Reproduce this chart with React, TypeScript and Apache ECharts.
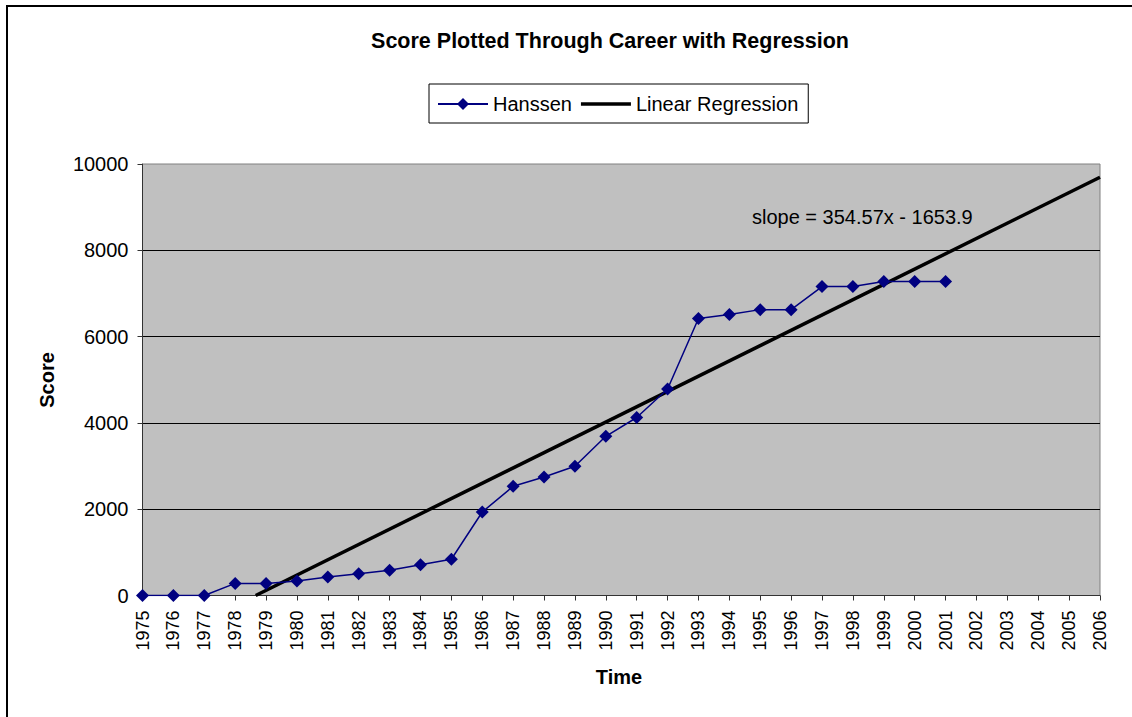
import { useEffect, useRef } from "react";
import * as echarts from "echarts";

// ---- Data ----
const years = [
  1975, 1976, 1977, 1978, 1979, 1980, 1981, 1982, 1983, 1984, 1985, 1986, 1987, 1988,
  1989, 1990, 1991, 1992, 1993, 1994, 1995, 1996, 1997, 1998, 1999, 2000, 2001,
];
const hanssenScores = [
  0, 0, 0, 280, 280, 335, 430, 505, 585, 715, 840, 1935, 2530, 2745, 2995, 3690, 4125,
  4785, 6420, 6510, 6625, 6625, 7160, 7160, 7275, 7275, 7275,
];
const axisYearMin = 1975;
const axisYearMax = 2006;
const scoreMax = 10000;
const scoreStep = 2000;
// regression from the annotation: y = 354.57x - 1653.9, x = 1 at 1975
const regressionSlope = 354.57;
const regressionIntercept = -1653.9;
const regressionLabel = "slope = 354.57x - 1653.9";
const seriesNames = ["Hanssen", "Linear Regression"];
const titleText = "Score Plotted Through Career with Regression";
const yAxisTitle = "Score";
const xAxisTitle = "Time";

const FONT = "'Liberation Sans', Arial, sans-serif";

export default function App() {
  const ref = useRef<HTMLDivElement>(null);

  useEffect(() => {
    if (!ref.current) return;
    const chart = echarts.init(ref.current, undefined, { renderer: "svg" });

    const hanssenData = years.map((y, i) => [y, hanssenScores[i]]);
    const toIndex = (year: number) => year - axisYearMin + 1;
    const startIdx = -regressionIntercept / regressionSlope;
    const startYear = axisYearMin - 1 + startIdx;
    const regressionData = [
      [startYear, 0],
      [axisYearMax, regressionSlope * toIndex(axisYearMax) + regressionIntercept],
    ];

    chart.setOption({
      animation: false,
      backgroundColor: "#ffffff",
      textStyle: { fontFamily: FONT },
      grid: {
        left: 142.5,
        right: 32,
        top: 164,
        bottom: 121.5,
        show: true,
        backgroundColor: "#C0C0C0",
        borderColor: "#808080",
        borderWidth: 1,
      },
      legend: {
        left: 429,
        top: 84,
        orient: "horizontal",
        padding: [10, 10, 9, 8],
        itemGap: 9,
        itemWidth: 50,
        itemHeight: 15,
        borderColor: "#000000",
        borderWidth: 1,
        borderRadius: 0,
        backgroundColor: "#ffffff",
        textStyle: { fontSize: 20, color: "#000000", fontFamily: FONT },
        data: [
          { name: seriesNames[0] },
          { name: seriesNames[1], icon: "path://M0 0H50V3.5H0Z" },
        ],
      },
      xAxis: {
        type: "value",
        min: axisYearMin,
        max: axisYearMax,
        interval: 1,
        axisLine: { show: true, lineStyle: { color: "#333333", width: 1 } },
        axisTick: { show: true, length: 5, lineStyle: { color: "#333333" } },
        splitLine: { show: false },
        axisLabel: {
          rotate: 90,
          margin: 15,
          fontSize: 18,
          color: "#000000",
          fontFamily: FONT,
          formatter: (v: number) => String(v),
        },
      },
      yAxis: {
        type: "value",
        min: 0,
        max: scoreMax,
        interval: scoreStep,
        axisLine: { show: true, lineStyle: { color: "#333333", width: 1 } },
        axisTick: { show: true, length: 5, lineStyle: { color: "#333333" } },
        splitLine: {
          show: true,
          showMinLine: false,
          showMaxLine: false,
          lineStyle: { color: "#000000", width: 1 },
        },
        axisLabel: {
          margin: 14,
          fontSize: 20,
          color: "#000000",
          fontFamily: FONT,
          formatter: (v: number) => String(v),
        },
      },
      series: [
        {
          name: seriesNames[0],
          type: "line",
          data: hanssenData,
          symbol: "diamond",
          symbolSize: 13,
          color: "#000080",
          itemStyle: { color: "#000080" },
          lineStyle: { color: "#000080", width: 1.5 },
          z: 3,
        },
        {
          name: seriesNames[1],
          type: "line",
          data: regressionData,
          symbol: "none",
          color: "#000000",
          itemStyle: { color: "#000000" },
          lineStyle: { color: "#000000", width: 3.5 },
          z: 2,
        },
      ],
      graphic: [
        {
          type: "line",
          shape: { x1: 7, y1: 6, x2: 7, y2: 717 },
          style: { stroke: "#000000", lineWidth: 2 },
        },
        {
          type: "line",
          shape: { x1: 6, y1: 6, x2: 1132, y2: 6 },
          style: { stroke: "#000000", lineWidth: 2 },
        },
        {
          type: "text",
          x: 610,
          y: 41,
          style: {
            text: titleText,
            fontSize: 21.5,
            fontWeight: "bold",
            fontFamily: FONT,
            fill: "#000000",
            align: "center",
            verticalAlign: "middle",
          },
        },
        {
          type: "text",
          x: 47,
          y: 380,
          rotation: Math.PI / 2,
          style: {
            text: yAxisTitle,
            fontSize: 20,
            fontWeight: "bold",
            fontFamily: FONT,
            fill: "#000000",
            align: "center",
            verticalAlign: "middle",
          },
        },
        {
          type: "text",
          x: 619,
          y: 677,
          style: {
            text: xAxisTitle,
            fontSize: 20,
            fontWeight: "bold",
            fontFamily: FONT,
            fill: "#000000",
            align: "center",
            verticalAlign: "middle",
          },
        },
        {
          type: "text",
          x: 752,
          y: 217,
          z: 10,
          style: {
            text: regressionLabel,
            fontSize: 20,
            fontFamily: FONT,
            fill: "#000000",
            align: "left",
            verticalAlign: "middle",
          },
        },
      ],
    });

    return () => chart.dispose();
  }, []);

  return (
    <div
      ref={ref}
      style={{ position: "absolute", left: 0, top: 0, width: 1132, height: 717 }}
    />
  );
}
